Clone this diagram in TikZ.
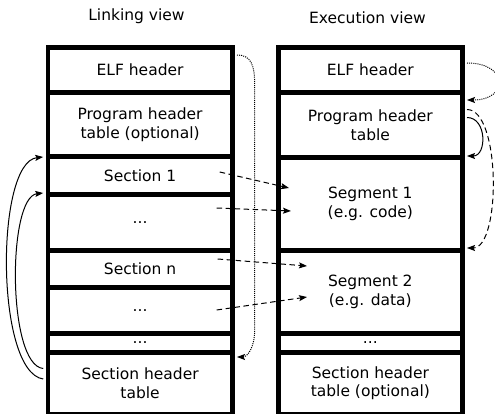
\documentclass[tikz,border=0pt]{standalone}
\usepackage{fontspec}
\setmainfont{DejaVu Sans}
\usetikzlibrary{arrows.meta,calc}
\begin{document}
\begin{tikzpicture}[x=1pt,y=-1pt,
  txt/.style={font=\fontsize{15.5}{18.6}\selectfont},
  cell/.style={draw, line width=4.7pt, inner sep=0pt, anchor=north west, align=center, txt},
  lcell/.style={cell, minimum width=184.5pt},
  rcell/.style={cell, minimum width=184pt},
  tip/.style={-{Stealth[length=8pt,width=6pt,inset=1.5pt]}},
  conn/.style={tip, line width=1pt},
  dashc/.style={conn, dash pattern=on 5.5pt off 3.5pt},
  dotc/.style={conn, line width=1pt, dash pattern=on 1pt off 1.1pt, black}]
\useasboundingbox (0,0) rectangle (495,414);
% titles
\node[txt, anchor=base] (tlink) at (136.5,20.7) {Linking view};
\node[txt, anchor=base] (texec) at (367.5,23.3) {Execution view};
% linking view
\node[lcell, minimum height=45.5pt] (lelf) at (45.5,45) {ELF header};
\node[lcell, minimum height=64pt] (lpht) at (45.5,90.5) {Program header\\table (optional)};
\node[lcell, minimum height=38pt] (ls1) at (45.5,154.5) {Section 1};
\node[lcell, minimum height=55.5pt] (ld1) at (45.5,192.5) {...};
\node[lcell, minimum height=37pt] (lsn) at (45.5,248) {Section n};
\node[lcell, minimum height=46pt] (ld2) at (45.5,285) {...};
\node[lcell, minimum height=19pt] (ld3) at (45.5,331) {...};
\node[lcell, minimum height=62pt] (lsht) at (45.5,350) {Section header\\table};
% execution view
\node[rcell, minimum height=45.5pt] (relf) at (276,45) {ELF header};
\node[rcell, minimum height=64.5pt] (rpht) at (276,90.5) {Program header\\table};
\node[rcell, minimum height=93pt] (rseg1) at (276,155) {Segment 1\\(e.g. code)};
\node[rcell, minimum height=83pt] (rseg2) at (276,248) {Segment 2\\(e.g. data)};
\node[rcell, minimum height=19pt] (rd) at (276,331) {...};
\node[rcell, minimum height=62pt] (rsht) at (276,350) {Section header\\table (optional)};
% left dotted: ELF header -> section header table
\draw[dotc] ($(lelf.north east)+(2.3,10)$) .. controls +(14,0) and +(0,-20) .. ($(lelf.north east)+(20,40)$)
  -- ($(lsht.north east)+(20,-20)$) .. controls +(0,18) and +(10,0) .. ($(lsht.north east)+(2.3,7)$);
% left solid curves
\draw[conn] ($(lsht.north west)+(-2.3,29)$) .. controls +(-48,-7) and +(-48,5) .. ($(ls1.north west)+(-2.3,2.5)$);
\draw[conn] ($(lsht.north west)+(-2.3,18.5)$) .. controls +(-36,-3.5) and +(-36,4) .. ($(ld1.north west)+(-2.3,0.5)$);
% right side curves
\draw[dotc] ($(relf.north east)+(2.3,18)$) .. controls +(42,0) and +(42,0) .. ($(rpht.north east)+(2.3,9.5)$);
\draw[conn] ($(rpht.north east)+(2.3,27)$) .. controls +(20,0) and +(20,0) .. ($(rseg1.north east)+(2.3,1)$);
\draw[dashc] ($(rpht.north east)+(2.3,19)$) .. controls +(34,0) and +(34,0) .. ($(rseg2.north east)+(2.3,0)$);
% middle dashed arrows
\draw[dashc] ($(ls1.north east)+(-15,17.5)$) -- ($(rseg1.north west)+(13,33)$);
\draw[dashc] ($(ld1.north east)+(-18,15.5)$) -- ($(rseg1.north west)+(15,56)$);
\draw[dashc] ($(lsn.north east)+(-17,11)$) -- ($(rseg2.north west)+(31,18)$);
\draw[dashc] ($(ld2.north east)+(-18,25)$) -- ($(rseg2.north west)+(31,49)$);
\end{tikzpicture}
\end{document}
